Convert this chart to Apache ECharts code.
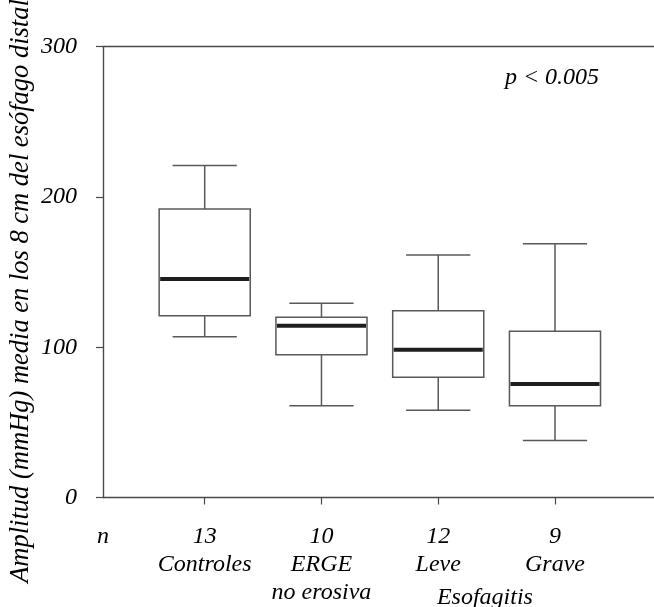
<!DOCTYPE html>
<html>
<head>
<meta charset="utf-8">
<script src="https://cdn.jsdelivr.net/npm/echarts@6/dist/echarts.min.js"></script>
<style>
html,body{margin:0;padding:0;background:#fff;}
#chart{width:654px;height:607px;}
</style>
</head>
<body>
<div id="chart"></div>
<script>
// ---- data ----
const categories = ['Controles', 'ERGE\nno erosiva', 'Leve', 'Grave'];
const nValues = ['13', '10', '12', '9'];
const positions = [1, 2, 3, 4];
const whiskerLow = [107, 61, 58, 38];
const q1Values = [121, 95, 80, 61];
const medianValues = [145.4, 114.3, 98.3, 75.5];
const q3Values = [192, 120, 124.3, 110.6];
const whiskerHigh = [221, 129.2, 161.3, 168.9];
const yTicks = [0, 100, 200, 300];
const groupLabel = 'Esofagitis';
const groupLabelPos = 3.4;
const yTitle = 'Amplitud (mmHg) media en los 8 cm del esófago distal';
const pText = 'p < 0.005';

const X_MIN = 0.129, X_MAX = 4.848;
const FONT = "'Liberation Serif', 'Times New Roman', serif";
const AX = '#4a4a4a';

const boxData = positions.map((p, i) => [p, whiskerLow[i], q1Values[i], medianValues[i], q3Values[i], whiskerHigh[i]]);

function renderBox(params, api) {
  const x = api.value(0);
  const lo = api.coord([x, api.value(1)]);
  const q1 = api.coord([x, api.value(2)]);
  const med = api.coord([x, api.value(3)]);
  const q3 = api.coord([x, api.value(4)]);
  const hi = api.coord([x, api.value(5)]);
  const band = api.size([1, 0])[0];
  const bw = band * 0.78, cw = band * 0.55;
  const cx = lo[0];
  const ls = {stroke: '#595959', lineWidth: 1.5};
  return {
    type: 'group',
    children: [
      {type: 'line', shape: {x1: cx, y1: hi[1], x2: cx, y2: q3[1]}, style: ls},
      {type: 'line', shape: {x1: cx, y1: q1[1], x2: cx, y2: lo[1]}, style: ls},
      {type: 'line', shape: {x1: cx - cw / 2, y1: hi[1], x2: cx + cw / 2, y2: hi[1]}, style: ls},
      {type: 'line', shape: {x1: cx - cw / 2, y1: lo[1], x2: cx + cw / 2, y2: lo[1]}, style: ls},
      {type: 'rect', shape: {x: cx - bw / 2, y: q3[1], width: bw, height: q1[1] - q3[1]}, style: {fill: '#fff', stroke: '#595959', lineWidth: 1.5}},
      {type: 'line', shape: {x1: cx - bw / 2 + 1, y1: med[1], x2: cx + bw / 2 - 1, y2: med[1]}, style: {stroke: '#1e1e1e', lineWidth: 4}}
    ]
  };
}

const chart = echarts.init(document.getElementById('chart'), null, {renderer: 'canvas'});
const txt = {fontFamily: FONT, fontStyle: 'italic', fontSize: 24, color: '#000'};

chart.setOption({
  animation: false,
  backgroundColor: '#fff',
  grid: {left: 103, right: 0, top: 46.7, bottom: 109.5, outerBoundsMode: 'none'},
  xAxis: [
    {
      type: 'value', min: X_MIN, max: X_MAX, position: 'bottom',
      splitLine: {show: false},
      axisLine: {show: true, onZero: false, lineStyle: {color: AX, width: 1.4}},
      axisTick: {show: true, customValues: positions, length: 7, lineStyle: {color: AX, width: 1.2}},
      axisLabel: Object.assign({}, txt, {
        customValues: [X_MIN].concat(positions),
        margin: 25, lineHeight: 28, align: 'center', verticalAlign: 'top',
        formatter: function (v) {
          if (Math.abs(v - X_MIN) < 1e-6) return 'n';
          const i = Math.round(v) - 1;
          return nValues[i] + '\n' + categories[i];
        }
      })
    },
    {
      type: 'value', min: X_MIN, max: X_MAX, position: 'top',
      splitLine: {show: false},
      axisLine: {show: true, onZero: false, lineStyle: {color: AX, width: 1.4}},
      axisTick: {show: false}, axisLabel: {show: false}
    },
    {
      type: 'value', min: X_MIN, max: X_MAX, position: 'bottom',
      splitLine: {show: false}, axisLine: {show: false}, axisTick: {show: false},
      axisLabel: Object.assign({}, txt, {
        customValues: [groupLabelPos], margin: 86, lineHeight: 28, verticalAlign: 'top',
        formatter: function () { return groupLabel; }
      })
    }
  ],
  yAxis: {
    type: 'value', min: yTicks[0], max: yTicks[yTicks.length - 1], interval: 100,
    splitLine: {show: false},
    axisLine: {show: true, lineStyle: {color: AX, width: 1.4}},
    axisTick: {show: true, length: 7, lineStyle: {color: AX, width: 1.2}},
    axisLabel: Object.assign({}, txt, {margin: 26})
  },
  graphic: [
    {
      type: 'text', x: 21, y: 291, rotation: Math.PI / 2,
      style: {text: yTitle, font: 'italic 26.5px ' + FONT, fill: '#000', textAlign: 'center', textVerticalAlign: 'middle'}
    },
    {
      type: 'text', x: 552, y: 78,
      style: {text: pText, font: 'italic 24px ' + FONT, fill: '#000', textAlign: 'center', textVerticalAlign: 'middle'}
    }
  ],
  series: [{
    type: 'custom', xAxisIndex: 0, yAxisIndex: 0,
    renderItem: renderBox,
    encode: {x: 0, y: [1, 2, 3, 4, 5]},
    data: boxData
  }]
});
</script>
</body>
</html>
